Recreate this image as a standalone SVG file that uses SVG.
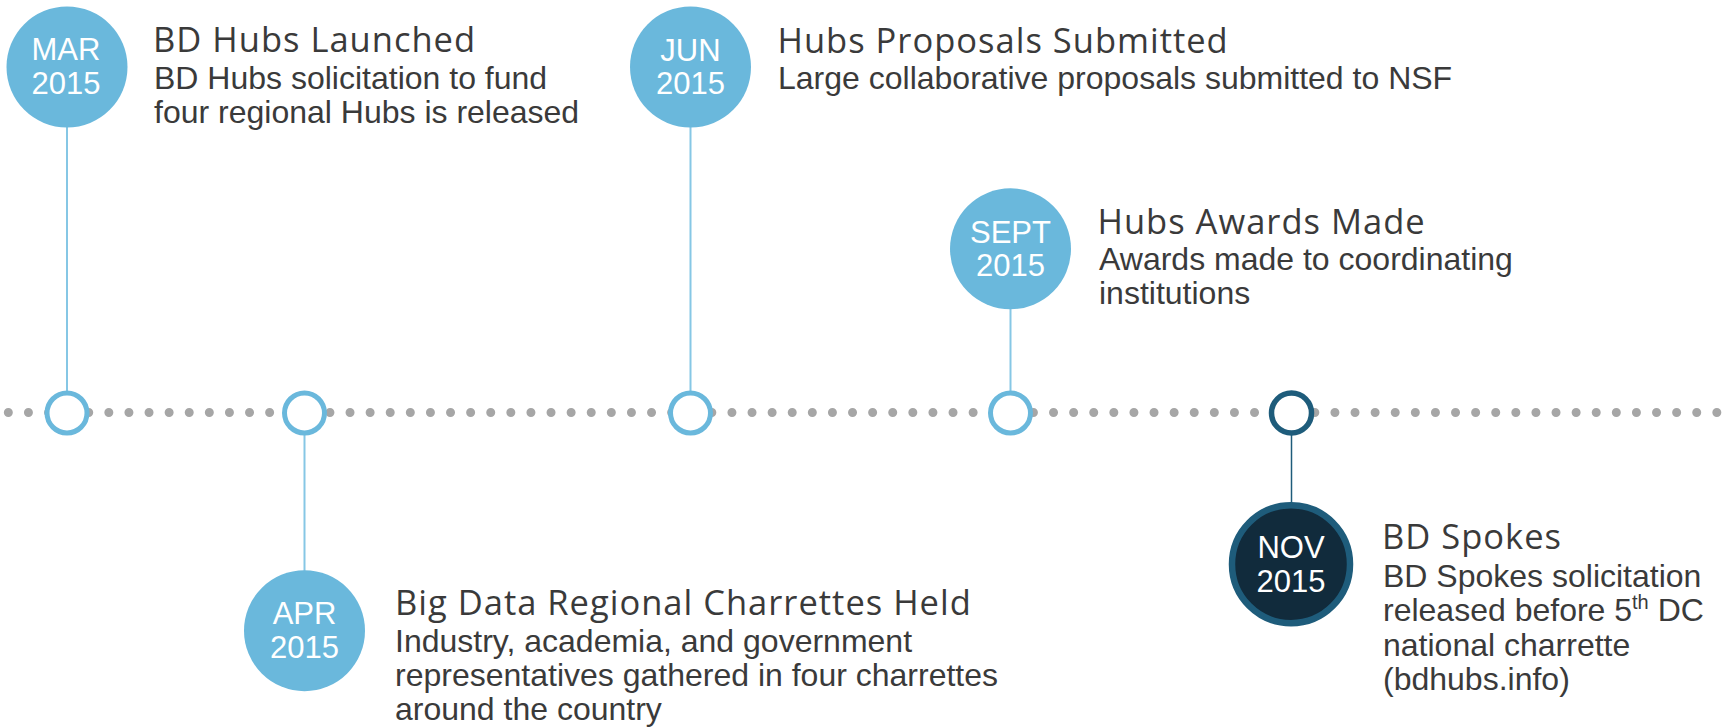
<svg xmlns="http://www.w3.org/2000/svg" width="1723" height="727" viewBox="0 0 1723 727">
<style>
.big{fill:#6ab8dc}
.ring{fill:#fff;stroke:#6ab8dc;stroke-width:5}
.ringd{fill:#fff;stroke:#1e5c7b;stroke-width:5.5}
.bigd{fill:#112b3c;stroke:#1e5c7b;stroke-width:6.5}
.date{font-family:"Liberation Sans",Arial,sans-serif;font-size:31px;fill:#fff;text-anchor:middle}
.title{font-family:"Open Sans","Noto Sans",sans-serif;font-size:34.5px;letter-spacing:1px;fill:#3a3a3a}
.desc{font-family:"Liberation Sans",Arial,sans-serif;font-size:32px;fill:#3a3a3a}
.conn{stroke:#86c7e5;stroke-width:2;fill:none}
</style>
<rect width="1723" height="727" fill="#fff"/>
<g id="timeline">
<line x1="8.33" y1="412.5" x2="1717" y2="412.5" stroke="#a6a6a6" stroke-width="9" stroke-linecap="round" stroke-dasharray="0 20.1"/>
</g>
<g id="connectors">
<line class="conn" x1="67" y1="126" x2="67" y2="392"/>
<line class="conn" x1="690.5" y1="126" x2="690.5" y2="392"/>
<line class="conn" x1="1010.5" y1="308" x2="1010.5" y2="392"/>
<line class="conn" x1="304.5" y1="434" x2="304.5" y2="572"/>
<line x1="1291.5" y1="435" x2="1291.5" y2="503" stroke="#1e5c7b" stroke-width="1.5"/>
</g>
<g id="node-mar">
<circle class="ring" cx="67" cy="413" r="20"/>
<circle class="big" cx="67" cy="67" r="60.5"/>
<text class="date" x="66" y="60">MAR</text>
<text class="date" x="66" y="94">2015</text>
<text class="title" x="153" y="52">BD Hubs Launched</text>
<text class="desc" x="154" y="89">BD Hubs solicitation to fund</text>
<text class="desc" x="154" y="123">four regional Hubs is released</text>
</g>
<g id="node-apr">
<circle class="ring" cx="304.5" cy="413" r="20"/>
<circle class="big" cx="304.5" cy="630.7" r="60.5"/>
<text class="date" x="304.5" y="623.5">APR</text>
<text class="date" x="304.5" y="657.5">2015</text>
<text class="title" x="395" y="615">Big Data Regional Charrettes Held</text>
<text class="desc" x="395" y="652">Industry, academia, and government</text>
<text class="desc" x="395" y="686">representatives gathered in four charrettes</text>
<text class="desc" x="395" y="720">around the country</text>
</g>
<g id="node-jun">
<circle class="ring" cx="690.5" cy="413" r="20"/>
<circle class="big" cx="690.5" cy="67" r="60.5"/>
<text class="date" x="690.5" y="60.5">JUN</text>
<text class="date" x="690.5" y="94">2015</text>
<text class="title" x="777.5" y="53">Hubs Proposals Submitted</text>
<text class="desc" x="778" y="89">Large collaborative proposals submitted to NSF</text>
</g>
<g id="node-sept">
<circle class="ring" cx="1010.5" cy="413" r="20"/>
<circle class="big" cx="1010.5" cy="248.8" r="60.5"/>
<text class="date" x="1010.5" y="242.5">SEPT</text>
<text class="date" x="1010.5" y="276">2015</text>
<text class="title" x="1097.5" y="234">Hubs Awards Made</text>
<text class="desc" x="1099" y="270">Awards made to coordinating</text>
<text class="desc" x="1099" y="304">institutions</text>
</g>
<g id="node-nov">
<circle class="ringd" cx="1291.5" cy="413" r="20"/>
<circle class="bigd" cx="1291" cy="564.2" r="59"/>
<text class="date" x="1291" y="557.5">NOV</text>
<text class="date" x="1291" y="591.5">2015</text>
<text class="title" x="1382" y="549">BD Spokes</text>
<text class="desc" x="1383" y="587">BD Spokes solicitation</text>
<text class="desc" x="1383" y="621">released before 5<tspan font-size="20" dy="-12">th</tspan><tspan dy="12"> DC</tspan></text>
<text class="desc" x="1383" y="656">national charrette</text>
<text class="desc" x="1383" y="690">(bdhubs.info)</text>
</g>
</svg>
